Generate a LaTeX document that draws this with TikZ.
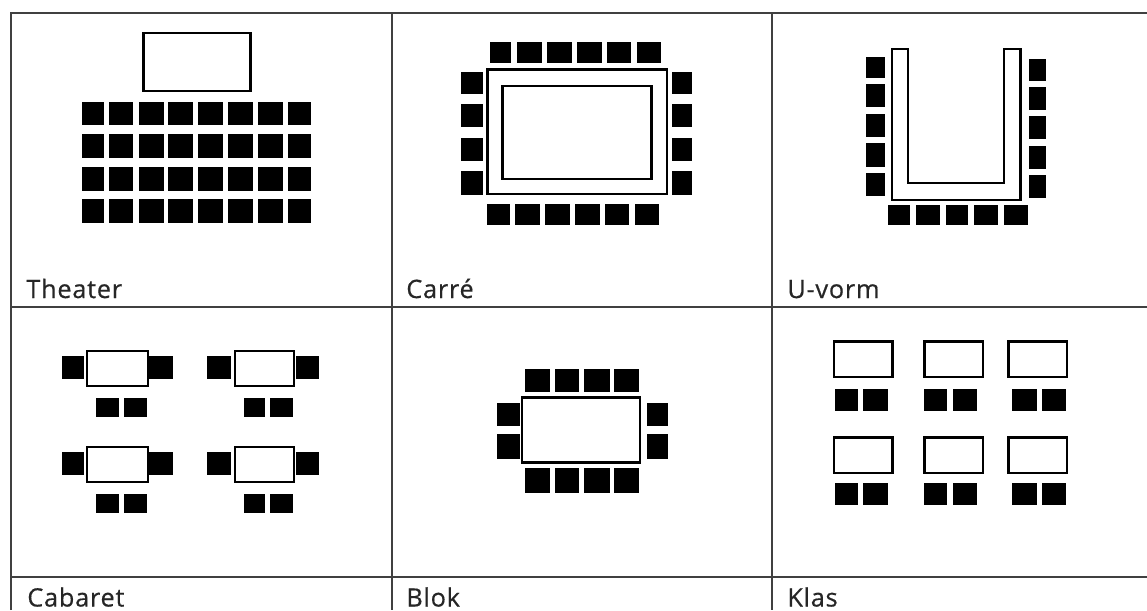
\documentclass[tikz,border=0pt]{standalone}
\usepackage{fontspec}
\setmainfont[LetterSpace=3,FakeBold=0.5]{Open Sans}
\tikzset{
  gridline/.style  = {draw=black!75, line width=1.2pt},
  tablebox/.style  = {draw=black, line width=1.3pt, fill=white},
  seat/.style      = {fill=black, draw=black, line width=0.5pt},
  roomlabel/.style = {anchor=base west, inner sep=0pt, font=\fontsize{14.4}{16}\selectfont, text=black!85}
}
% seats: one block per x-span, per y-span
\newcommand{\seats}[2]{%
  \foreach \xa/\xb in {#1} {
    \foreach \ya/\yb in {#2} {
      \filldraw[seat] (\xa,\ya) rectangle (\xb,\yb);
    }
  }
}
\begin{document}
\begin{tikzpicture}[x=0.02cm, y=-0.02cm]
\useasboundingbox (0,0) rectangle (1147,610);

% ---- Grid ----
\draw[gridline] (11,610) -- (11,13) -- (1147,13);
\draw[gridline] (11,307) -- (1147,307);
\draw[gridline] (11,577) -- (1147,577);
\foreach \gx in {392,772} {
  \draw[gridline] (\gx,13) -- (\gx,610);
}

% ---- Theater ----
\draw[tablebox] (143.5,33) rectangle (250.5,91);
\seats{82/103,109/132.5,139/163,168.5/192.5,198.5/222.5,228.5/252,258.5/282,288/310.5}
      {102.5/124,134/157,167/190,199/222.5}

% ---- Carre ----
\draw[tablebox] (487.5,69.5) rectangle (667,194);
\draw[tablebox] (502.5,86) rectangle (651.5,179);
\seats{490/510.5,517.5/541,547.5/571,577.5/601,607/630.5,637/660}{42/62}
\seats{487.5/509,515.5/539,545.5/569,575/599,605/628.5,635/658}{204.5/224}
\seats{461/482,672/691}{72/93,104.5/126.5,138/160.5,171/194}

% ---- U-vorm ----
\draw[tablebox] (892,49) -- (908,49) -- (908,183) -- (1004,183) -- (1004,49)
  -- (1020.5,49) -- (1020.5,200) -- (892,200) -- cycle;
\seats{866/884}{57/77.5,84.5/106.5,114/136.5,143.5/166,173/195.5}
\seats{1029/1045.5}{59/80,87/109,116/138.5,146/168,175/197.5}
\seats{888.5/909,916/939,946/967.5,974/997.5,1004/1027}{205/224}

% ---- Cabaret ----
\foreach \ty in {0,96} {
  \draw[tablebox] (87,351+\ty) rectangle (148,386+\ty);
  \draw[tablebox] (235,351+\ty) rectangle (294,386+\ty);
  \filldraw[seat] (62,356+\ty) rectangle (83.5,378.5+\ty);
  \filldraw[seat] (149,356+\ty) rectangle (172.5,378.5+\ty);
  \filldraw[seat] (207,356+\ty) rectangle (230.5,378.5+\ty);
  \filldraw[seat] (296,356+\ty) rectangle (318.5,378.5+\ty);
  \filldraw[seat] (96.5,398+\ty) rectangle (118.5,416.5+\ty);
  \filldraw[seat] (124.5,398+\ty) rectangle (146.5,416.5+\ty);
  \filldraw[seat] (244,398+\ty) rectangle (264.5,416.5+\ty);
  \filldraw[seat] (270.5,398+\ty) rectangle (292,416.5+\ty);
}

% ---- Blok ----
\draw[tablebox] (522,397.5) rectangle (640,462.5);
\seats{525/549,555/578.5,584.5/609,614/638.5}{369.5/391,468/492}
\seats{497.5/519,647/667.5}{403/425,434.5/458}

% ---- Klas ----
\foreach \kx/\ky in {834/341.5,924.5/341.5,1008.5/341.5,834/437.5,924.5/437.5,1008.5/437.5} {
  \draw[tablebox] (\kx,\ky) rectangle (\kx+58.5,\ky+35.5);
}
\seats{835.5/857,863.5/887,924/946.5,953/976.5,1012/1036.5,1042.5/1065.5}{389/410,483.5/504}

% ---- Labels ----
\node[roomlabel] (theater) at (26,298) {Theater};
\node[roomlabel] (carre)   at (406,298) {Carré};
\node[roomlabel] (uvorm)   at (787,298) {U-vorm};
\node[roomlabel] (cabaret) at (27,606.5) {Cabaret};
\node[roomlabel] (blok)    at (406,606.5) {Blok};
\node[roomlabel] (klas)    at (787,606.5) {Klas};
\end{tikzpicture}
\end{document}
